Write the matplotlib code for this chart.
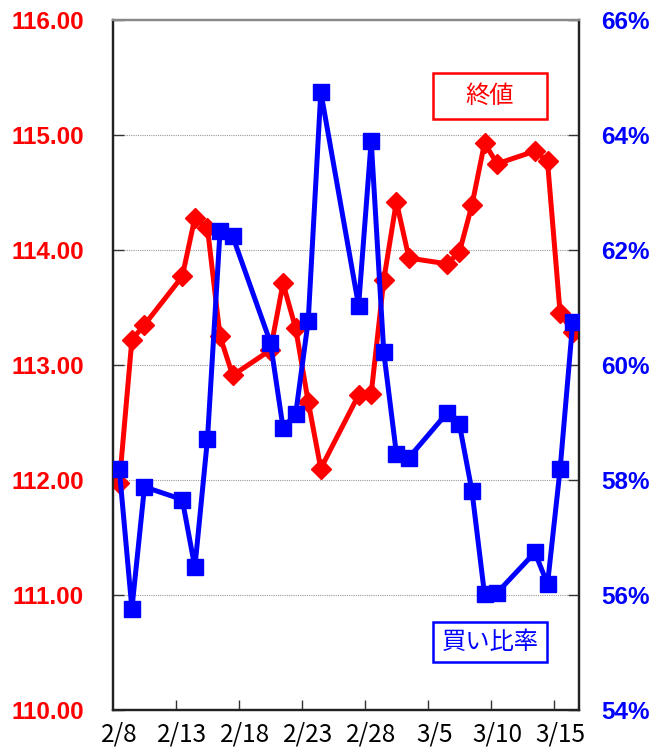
import matplotlib
matplotlib.use("Agg")
import matplotlib.pyplot as plt
import pandas as pd
from matplotlib.patches import Rectangle

dates = ["2017-02-08", "2017-02-09", "2017-02-10",
         "2017-02-13", "2017-02-14", "2017-02-15", "2017-02-16", "2017-02-17",
         "2017-02-20", "2017-02-21", "2017-02-22", "2017-02-23", "2017-02-24",
         "2017-02-27", "2017-02-28", "2017-03-01", "2017-03-02", "2017-03-03",
         "2017-03-06", "2017-03-07", "2017-03-08", "2017-03-09", "2017-03-10",
         "2017-03-13", "2017-03-14", "2017-03-15", "2017-03-16"]
close = [111.97, 113.22, 113.35,
         113.77, 114.28, 114.19, 113.25, 112.91,
         113.13, 113.71, 113.32, 112.68, 112.10,
         112.74, 112.75, 113.74, 114.42, 113.93,
         113.88, 113.98, 114.39, 114.93, 114.75,
         114.86, 114.77, 113.45, 113.29]
buy_ratio = [58.19, 55.76, 57.88,
             57.66, 56.48, 58.71, 62.33, 62.24,
             60.39, 58.91, 59.14, 60.77, 64.75,
             61.03, 63.90, 60.22, 58.46, 58.39,
             59.16, 58.97, 57.81, 56.01, 56.04,
             56.74, 56.19, 58.19, 60.74]
tick_labels = ["2/8", "2/13", "2/18", "2/23", "2/28", "3/5", "3/10", "3/15"]
left_ticks = [110, 111, 112, 113, 114, 115, 116]
right_ticks = [54, 56, 58, 60, 62, 64, 66]
label_close = "終値"
label_buy = "買い比率"

start = pd.Timestamp("2017-02-08")
end = pd.Timestamp("2017-03-16")
x = [(pd.Timestamp(d) - start).days for d in dates]
ndays = (end - start).days

fig = plt.figure(figsize=(6.54, 7.49), dpi=100)
ax = fig.add_axes([113/654, 1-710/749, 466/654, 690/749])
ax2 = ax.twinx()

left_font = dict(family=["Liberation Sans", "DejaVu Sans"], weight="bold", size=17.5)
right_font = dict(family=["Liberation Sans Narrow", "Liberation Sans", "DejaVu Sans"],
                  weight="bold", size=17.5)
jp_font = ["Noto Sans CJK JP", "DejaVu Sans"]

ax.plot(x, close, color="#ff0000", lw=3.6, marker="D", ms=10.5, zorder=3)
ax2.plot(x, buy_ratio, color="#0000ff", lw=3.6, marker="s", ms=11, zorder=3)

ax.set_xlim(-0.5, ndays + 0.5)
ax.set_ylim(110, 116)
ax2.set_ylim(54, 66)

ax.set_yticks(left_ticks)
ax.set_yticklabels([f"{v:.2f}" for v in left_ticks], color="#ff0000", **left_font)
ax2.set_yticks(right_ticks)
ax2.set_yticklabels([f"{v}%" for v in right_ticks], color="#0000ff", **right_font)

label_pos = [i * 5 for i in range(len(tick_labels))]
ax.set_xticks(label_pos)
ax.set_xticklabels(tick_labels, family=jp_font, size=17.5, color="black")
ax.set_xticks([p + 4.5 for p in label_pos[:-1]], minor=True)
ax.tick_params(axis="x", which="major", length=0, pad=8)
ax.tick_params(axis="x", which="minor", direction="in", length=7, width=1, color="#333333")
ax.tick_params(axis="y", direction="in", length=8, width=1, pad=21, color="#333333")
ax2.tick_params(axis="y", direction="in", length=8, width=1, pad=16, color="#333333")

for a in (ax, ax2):
    for s in ("left", "bottom", "right"):
        a.spines[s].set_color("#222222")
        a.spines[s].set_linewidth(1.6)
    a.spines["top"].set_color("#888888")
    a.spines["top"].set_linewidth(1.6)

for v in left_ticks[1:-1]:
    ax.axhline(v, color="#999999", lw=0.8, ls=(0, (1, 1)), zorder=1)

# legend-like boxes
ax2.add_patch(Rectangle((0.687, 0.8565), 0.244, 0.0667, transform=ax2.transAxes,
                        facecolor="white", edgecolor="#ff0000", lw=1.8, zorder=5))
ax2.text(0.809, 0.890, label_close, transform=ax2.transAxes, ha="center", va="center",
         color="#ff0000", family=jp_font, size=17.5, zorder=6)
ax2.add_patch(Rectangle((0.687, 0.0696), 0.244, 0.058, transform=ax2.transAxes,
                        facecolor="white", edgecolor="#0000ff", lw=1.8, zorder=5))
ax2.text(0.809, 0.0985, label_buy, transform=ax2.transAxes, ha="center", va="center",
         color="#0000ff", family=jp_font, size=17.5, zorder=6)

fig.savefig("out.png", dpi=100)
